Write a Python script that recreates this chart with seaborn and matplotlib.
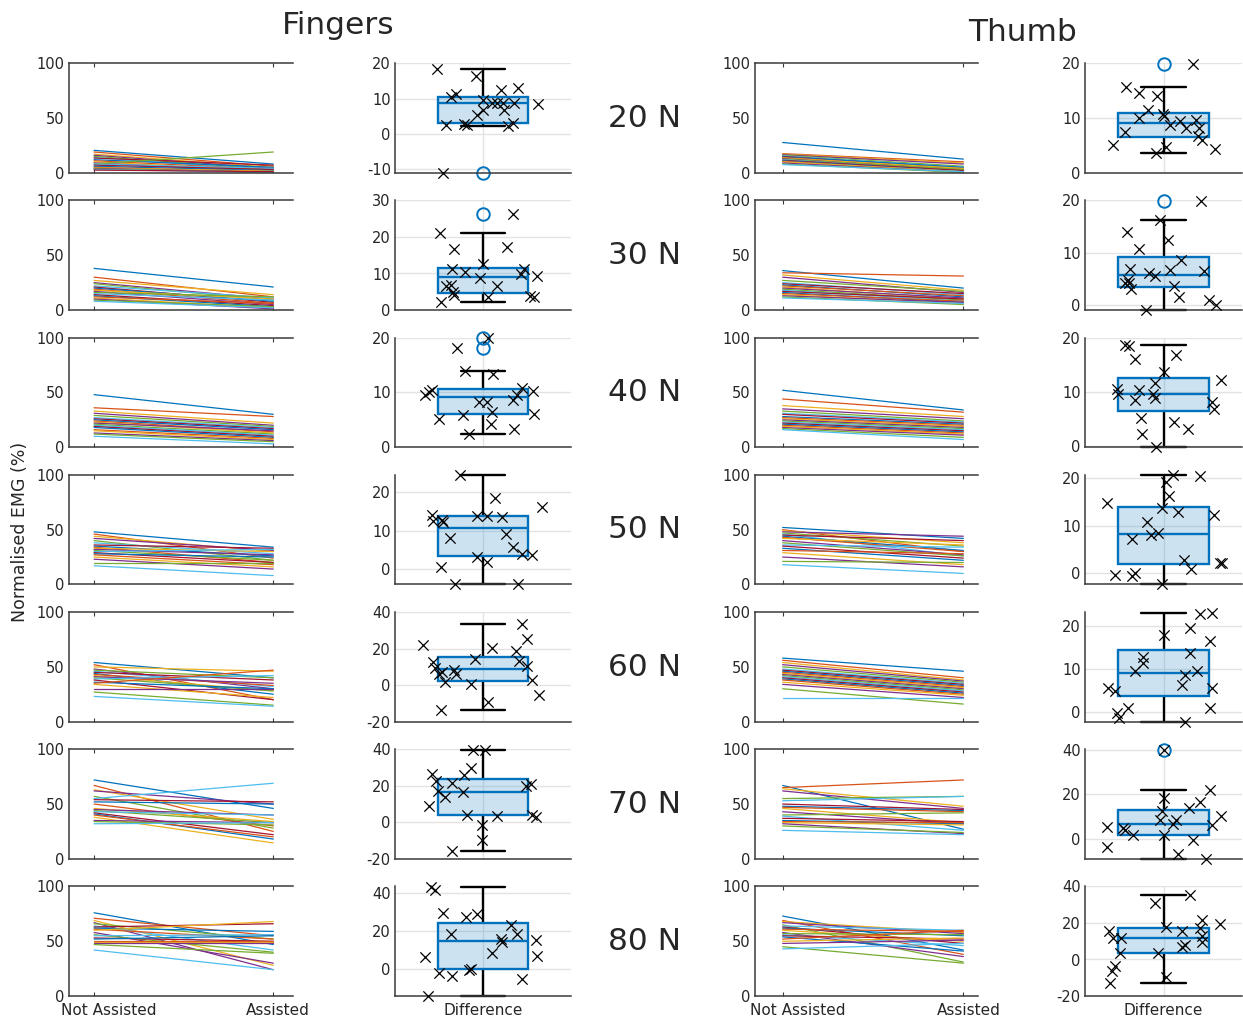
import numpy as np
import pandas as pd
import seaborn as sns
import matplotlib
matplotlib.use("Agg")
import matplotlib.pyplot as plt
from matplotlib.transforms import ScaledTranslation

forces = ['20 N', '30 N', '40 N', '50 N', '60 N', '70 N', '80 N']
conditions = ['Not Assisted', 'Assisted']

# normalised EMG (%) per subject, one list per force level (20 N ... 80 N)
fingers_not_assisted = [
    [20.5, 19, 17, 16, 15, 14, 13.5, 12, 11, 10, 9, 8, 8, 7, 6, 5, 4.5, 4, 3.5, 3, 2.5],
    [38, 30, 27, 25, 24, 22, 21, 20, 19, 18, 17, 16, 15, 14, 13, 12, 11, 10, 9, 8],
    [48, 36, 33, 31, 29, 27, 26, 25, 24, 23, 22, 21, 20, 19, 18, 16, 15, 13, 12, 10],
    [48, 46, 44, 42, 40, 38, 36, 35, 34, 33, 32, 31, 30, 29, 28, 27, 25, 23, 20, 17],
    [54, 52, 50, 48, 47, 46, 45, 44, 43, 42, 41, 40, 39, 38, 36, 35, 34, 30, 27, 23],
    [72, 67, 63, 62, 57, 55, 54, 52, 50, 46, 45, 44, 43, 42, 41, 40, 38, 35, 34, 32],
    [76, 71, 69, 67, 66, 64, 63, 62, 61, 60, 58, 56, 55, 53, 52, 50, 49, 48, 47, 42],
]
fingers_assisted = [
    [8, 6, 5, 4, 3, 2, 7, 5, 3, 2, 1, 19, 4, 3, 2, 1, 1.5, 0.5, 0.5, 0.5, 1],
    [21, 12, 14, 10, 9, 11, 7, 8, 6, 10, 5, 12, 9, 4, 3, 6, 2, 1, 3, 2],
    [30, 28, 22, 20, 19, 18, 17, 16, 14, 13, 15, 12, 11, 10, 9, 8, 7, 6, 5, 3],
    [34, 24, 30, 31, 22, 28, 33, 26, 20, 30, 27, 22, 32, 20, 25, 18, 16, 14, 20, 8],
    [40, 20, 46, 30, 40, 32, 38, 25, 33, 28, 35, 28, 42, 20, 30, 47, 22, 30, 15, 14],
    [46, 25, 36, 50, 28, 69, 52, 50, 30, 34, 40, 33, 40, 22, 18, 20, 14.5, 33, 31, 33],
    [47, 55, 28, 24, 52, 42, 66, 59, 52, 68, 30, 40, 56, 50, 55, 50, 49, 48, 39, 24],
]
thumb_not_assisted = [
    [27.7, 17.5, 17, 16.5, 16, 15.5, 15, 14.5, 14, 13.5, 13, 12.5, 12, 11.5, 11, 10.5, 10, 9, 8, 7.5],
    [36, 34, 32, 30, 27, 25, 24, 23, 22, 21, 20, 19, 18, 17, 16, 15, 14, 13, 12, 11],
    [52, 44, 38, 35, 33, 31, 30, 28, 27, 26, 25, 24, 23, 22, 21, 20, 19, 18, 17, 16],
    [52, 50, 49, 48, 47, 46, 45, 44, 43, 42, 40, 38, 36, 35, 33, 31, 29, 25, 21, 18],
    [58, 56, 54, 52, 50, 48, 47, 46, 45, 44, 43, 42, 41, 40, 39, 38, 36, 34, 30, 22],
    [67, 65, 64, 62, 55, 53, 50, 48, 47, 46, 43, 40, 39, 37, 35, 34, 33, 32, 30, 26],
    [73, 69, 68, 67, 65, 64, 63, 62, 61, 60, 58, 57, 56, 55, 54, 52, 50, 48, 45, 43],
]
thumb_assisted = [
    [12.5, 10, 9, 8, 6, 5, 4, 5, 3, 4, 2, 3, 1.5, 2, 1, 0.5, 1, 0.5, 0.3, 1],
    [20, 31, 18, 16, 17, 14, 15, 12, 13, 10, 11, 9, 8, 10, 7, 8, 6, 7, 5, 6],
    [34, 32, 28, 26, 24, 23, 22, 21, 20, 19, 18, 17, 16, 15, 14, 13, 12, 11, 9, 7],
    [42, 30, 38, 44, 35, 26, 40, 31, 30, 36, 27, 26, 34, 24, 22, 28, 18, 16, 20, 10],
    [46, 40, 38, 37, 36, 35, 34, 33, 32, 31, 30, 29, 28, 27, 26, 25, 24, 22, 16, 22],
    [27, 72, 48, 46, 57, 57, 45, 44, 43, 33, 32, 42, 26, 34, 32, 33, 31, 23, 24, 22],
    [42, 38, 58, 57, 31, 60, 48, 55, 59, 50, 36, 56, 46, 52, 41, 60, 53, 51, 30, 48],
]

# difference (not assisted - assisted) and horizontal jitter of each cross
fingers_diff = [
    [18.5, 16.4, 10.5, 11.2, 2.4, 2.9, 2.4, 9.7, 6.7, 5.5, 8.9, 12.4, 8.9, 8.9, 6.9, 8.9, 13.1, 2.2, 3.1, 8.6, -11],
    [21, 16.7, 11.3, 10.3, 6.7, 6.9, 4.8, 4.1, 2.3, 12.6, 8.7, 3.5, 6.5, 17.2, 26.3, 9.9, 11.3, 9.2, 3.9, 3.5],
    [18.2, 9.6, 10.1, 10.5, 5.1, 13.9, 5.8, 2.4, 8.2, 8.2, 19.9, 13.3, 6.4, 4.3, 8.6, 9.6, 10.9, 3.3, 10.3, 6.1],
    [24.5, 14.2, 12.6, 12.9, 12.4, 8.2, 0.6, -3.7, 13.9, 13.9, 18.6, 13.6, 9.3, 3.3, 1.9, 5.8, 3.9, 3.6, 16.1, -3.9],
    [22.1, 12.7, 9.6, 5.9, 7.4, 1.7, 8.1, 5.9, -13.4, 0.4, 14.2, -9.4, 20.1, 18.8, 13.3, 33.5, 25.2, 10.5, 2.6, -5.2],
    [26.4, 22.9, 16.9, 13.8, 8.7, 21.5, -15.5, 26, 29.6, 16.4, 4.2, 39.6, 39.6, -1.3, -9.5, 3.3, 20, 20.9, 4.2, 2.9],
    [43.1, 41.4, 29.2, 18.3, 6.1, -2.4, -3.8, -14.3, 27, 28.7, -0.7, 0, 8.3, 15.7, 13.9, 23.1, 18.3, -5.2, 15.3, 7],
]
fingers_jitter = [
    [-0.254, -0.041, -0.179, -0.15, -0.207, -0.104, -0.087, -0.002, -0.002, -0.035, 0.052, 0.1, 0.079, 0.109, 0.118, 0.174, 0.196, 0.141, 0.168, 0.307, -0.221],
    [-0.239, -0.161, -0.171, -0.1, -0.206, -0.178, -0.165, -0.161, -0.233, 0.002, -0.017, 0.029, 0.076, 0.132, 0.168, 0.209, 0.228, 0.302, 0.261, 0.283],
    [-0.143, -0.322, -0.298, -0.282, -0.244, -0.1, -0.109, -0.078, -0.022, 0.021, 0.029, 0.057, 0.048, 0.044, 0.168, 0.187, 0.218, 0.172, 0.276, 0.285],
    [-0.128, -0.282, -0.279, -0.229, -0.224, -0.183, -0.233, -0.156, -0.035, 0.021, 0.067, 0.104, 0.126, -0.035, 0.024, 0.165, 0.218, 0.274, 0.329, 0.196],
    [-0.332, -0.279, -0.267, -0.243, -0.229, -0.211, -0.161, -0.15, -0.235, -0.068, -0.044, 0.029, 0.052, 0.182, 0.202, 0.215, 0.246, 0.246, 0.274, 0.311],
    [-0.282, -0.261, -0.248, -0.211, -0.3, -0.174, -0.174, -0.104, -0.068, -0.109, -0.087, -0.054, 0.011, -0.004, -0.004, 0.079, 0.237, 0.265, 0.271, 0.294],
    [-0.291, -0.267, -0.221, -0.179, -0.322, -0.244, -0.174, -0.304, -0.096, -0.032, -0.078, -0.068, 0.052, 0.098, 0.104, 0.154, 0.187, 0.215, 0.293, 0.302],
]
thumb_diff = [
    [5.1, 7.5, 15.7, 14.6, 10, 11.4, 14.1, 10.8, 10.4, 8.8, 9.4, 8.2, 9.7, 8.2, 6.7, 5.9, 4.4, 4.8, 3.6, 19.9],
    [14, 10.7, 6.9, 4.2, 4.7, 4.2, 3.1, 6, 5.6, 16.2, 12.5, 6.7, 8.6, 3.6, 1.4, -1, 19.9, 6.5, 1, -0.1],
    [18.6, 18.4, 16.1, 10.5, 9.5, 10.3, 8.5, 5.2, 2.1, 11.6, 9.5, 8.9, 13.6, 16.8, 4.4, -0.25, 3.1, 12.1, 8, 6.7],
    [14.8, -0.4, -0.6, 0, 7.2, 10.8, 8.1, 8.4, 13.7, -2.3, 19.1, 16.2, 20.5, 12.9, 2.8, 1, 20.3, 12.2, 2.2, 2.2],
    [5.6, 4.8, -0.3, -1.3, 1, 9.6, 12.8, 11.5, 17.8, -2.2, 6.2, 8.7, 13.8, 19.5, 9.5, 22.8, 23.1, 16.5, 5.6, 1],
    [5.1, -3.9, 4.7, 3.9, 1.7, 40.3, 18.2, 12.6, 8.4, 1.7, 6.6, 8.4, -6.9, 14, -0.6, 16.7, -9.2, 22, 6.2, 10.2],
    [15.5, 11.9, 11.9, 3.7, -3.3, -6.4, -12.8, 30.7, 17.9, 3.3, -9.5, 35.4, 15.5, 6.9, 7.7, 17.4, 21.6, 12.8, 9.5, 19.7],
]
thumb_jitter = [
    [-0.275, -0.209, -0.205, -0.132, -0.137, -0.086, -0.037, -0.004, 0.005, 0.033, 0.088, 0.125, 0.18, 0.194, 0.189, 0.213, 0.284, 0.011, -0.04, 0.161],
    [-0.201, -0.132, -0.183, -0.214, -0.196, -0.187, -0.178, -0.081, -0.044, -0.018, 0.024, 0.033, 0.097, 0.055, 0.084, -0.095, 0.207, 0.225, 0.249, 0.29],
    [-0.214, -0.191, -0.156, -0.256, -0.251, -0.136, -0.159, -0.123, -0.117, -0.044, -0.059, -0.049, 0.005, 0.066, 0.06, -0.04, 0.137, 0.313, 0.265, 0.275],
    [-0.309, -0.269, -0.172, -0.159, -0.172, -0.09, -0.068, -0.031, -0.007, -0.007, 0.011, 0.029, 0.051, 0.079, 0.112, 0.152, 0.198, 0.28, 0.308, 0.322],
    [-0.306, -0.264, -0.257, -0.242, -0.196, -0.156, -0.11, -0.11, 0.0, 0.119, 0.103, 0.119, 0.143, 0.143, 0.183, 0.198, 0.267, 0.256, 0.267, 0.253],
    [-0.309, -0.309, -0.224, -0.209, -0.169, 0.0, 0.0, -0.007, -0.018, 0.0, 0.051, 0.07, 0.079, 0.139, 0.161, 0.198, 0.235, 0.257, 0.265, 0.317],
    [-0.301, -0.279, -0.232, -0.238, -0.264, -0.282, -0.293, -0.046, 0.015, -0.031, 0.011, 0.147, 0.103, 0.103, 0.119, 0.198, 0.213, 0.21, 0.21, 0.312],
]
fingers_diff_ylim = [(-11, 20), (0, 30), (0, 20), (-3.9, 24.5), (-20, 40), (-20, 40), (-14.3, 43.3)]
thumb_diff_ylim = [(0, 20), (-1, 20), (-0.3, 20), (-2.3, 20.6), (-2.2, 23.2), (-9.2, 40.5), (-20, 40)]

matlab_colors = ['#0072BD', '#D95319', '#EDB120', '#7E2F8E', '#77AC30', '#4DBEEE', '#A2142F']
box_blue = '#0072BD'
axis_color = '#3a3a3a'
text_color = '#262626'

sns.set_style('white')
plt.rcParams['font.family'] = ['DejaVu Sans']
plt.rcParams['axes.unicode_minus'] = False

W, H = 1243, 1021
fig = plt.figure(figsize=(W / 100, H / 100), dpi=100)


def px_axes(left, top, right, bottom):
    return fig.add_axes([left / W, 1 - bottom / H, (right - left) / W, (bottom - top) / H])


def style_spines(ax, top=False):
    for side in ['left', 'bottom', 'top', 'right']:
        ax.spines[side].set_color(axis_color)
        ax.spines[side].set_linewidth(1.1)
    ax.spines['right'].set_visible(False)
    ax.spines['top'].set_visible(top)


def draw_lines(ax, na, a, xlim, last):
    n = len(na)
    df = pd.DataFrame({
        'subject': ['s%d' % i for i in range(n)] * 2,
        'cond': [1] * n + [2] * n,
        'emg': list(na) + list(a),
    })
    pal = [matlab_colors[i % 7] for i in range(n)]
    sns.lineplot(data=df, x='cond', y='emg', hue='subject', palette=pal, estimator=None,
                 sort=False, legend=False, linewidth=0.9, ax=ax)
    ax.set_xlim(*xlim)
    ax.set_ylim(0, 100)
    ax.set_yticks([0, 50, 100])
    ax.set_xticks([1, 2])
    style_spines(ax, top=True)
    ax.tick_params(axis='y', direction='out', length=2.5, pad=0.5, color=axis_color,
                   labelsize=10.5, labelcolor=text_color)
    ax.tick_params(axis='x', direction='in', length=3, top=True, bottom=True, color=axis_color,
                   labelsize=11, labelcolor=text_color, pad=5)
    if last:
        ax.set_xticklabels(conditions)
        for lab, dx in zip(ax.get_xticklabels(), [15, 5]):
            lab.set_transform(lab.get_transform() + ScaledTranslation(dx / 100, 0, fig.dpi_scale_trans))
    else:
        ax.set_xticklabels([])
    ax.set_xlabel('')
    ax.set_ylabel('')


def draw_diff(ax, vals, jit, ylim, half, last):
    sns.boxplot(y=vals, ax=ax, width=0.5, whis=1.5, color=box_blue, linecolor=box_blue,
                saturation=1, linewidth=1.7, capwidths=0.25,
                boxprops=dict(facecolor=(0.0, 0.447, 0.741, 0.2), edgecolor=box_blue, linewidth=1.7, zorder=2),
                medianprops=dict(color=box_blue, linewidth=1.7, zorder=2.1),
                whiskerprops=dict(color='black', linewidth=1.7, zorder=1.9),
                capprops=dict(color='black', linewidth=1.7, zorder=1.9),
                flierprops=dict(marker='o', markerfacecolor='none', markeredgecolor=box_blue,
                                markersize=9, markeredgewidth=1.4, zorder=2.2))
    sns.scatterplot(x=jit, y=vals, marker='x', color='black', s=55, linewidth=0.9, ax=ax, zorder=3)
    for art in ax.lines + ax.collections:
        art.set_clip_on(False)
    lo, hi = ylim
    step = 10 if hi - lo < 35 else 20
    ticks = np.arange(np.ceil(lo / step) * step, hi + 1e-6, step)
    ax.set_ylim(lo, hi)
    ax.set_yticks(ticks)
    ax.set_yticklabels(['%d' % t for t in ticks])
    ax.set_xlim(-half, half)
    ax.set_xticks([0])
    ax.set_xticklabels(['Difference'] if last else [])
    ax.grid(True, color='#e3e3e3', linewidth=1)
    ax.set_axisbelow(True)
    style_spines(ax, top=False)
    ax.tick_params(axis='y', direction='out', length=2.5, pad=0.5, color=axis_color,
                   labelsize=10.5, labelcolor=text_color)
    ax.tick_params(axis='x', direction='in', length=3, color=axis_color,
                   labelsize=11, labelcolor=text_color, pad=5)
    ax.set_xlabel('')
    ax.set_ylabel('')


for i, force in enumerate(forces):
    top = 63.3 + 137.2 * i
    bottom = top + 109.5
    last = i == len(forces) - 1

    ax1 = px_axes(69, top, 293, bottom)
    draw_lines(ax1, fingers_not_assisted[i], fingers_assisted[i], (0.86, 2.11), last)

    ax2 = px_axes(395, top, 571, bottom)
    draw_diff(ax2, fingers_diff[i], fingers_jitter[i], fingers_diff_ylim[i], 0.489, last)

    ax3 = px_axes(755, top, 978, bottom)
    draw_lines(ax3, thumb_not_assisted[i], thumb_assisted[i], (0.847, 2.081), last)

    ax4 = px_axes(1085, top, 1242, bottom)
    draw_diff(ax4, thumb_diff[i], thumb_jitter[i], thumb_diff_ylim[i], 0.431, last)

    fig.text(645 / W, 1 - (top + 55) / H, force, ha='center', va='center',
             fontsize=22.5, color=text_color)

fig.text(338 / W, 1 - 34 / H, 'Fingers', ha='center', va='baseline', fontsize=22.5, color=text_color)
fig.text(1023 / W, 1 - 41 / H, 'Thumb', ha='center', va='baseline', fontsize=22.5, color=text_color)
fig.text(20 / W, 1 - 532 / H, 'Normalised EMG (%)', ha='center', va='center', rotation=90,
         fontsize=12.5, color=text_color)

fig.savefig('out.png', dpi=100)
